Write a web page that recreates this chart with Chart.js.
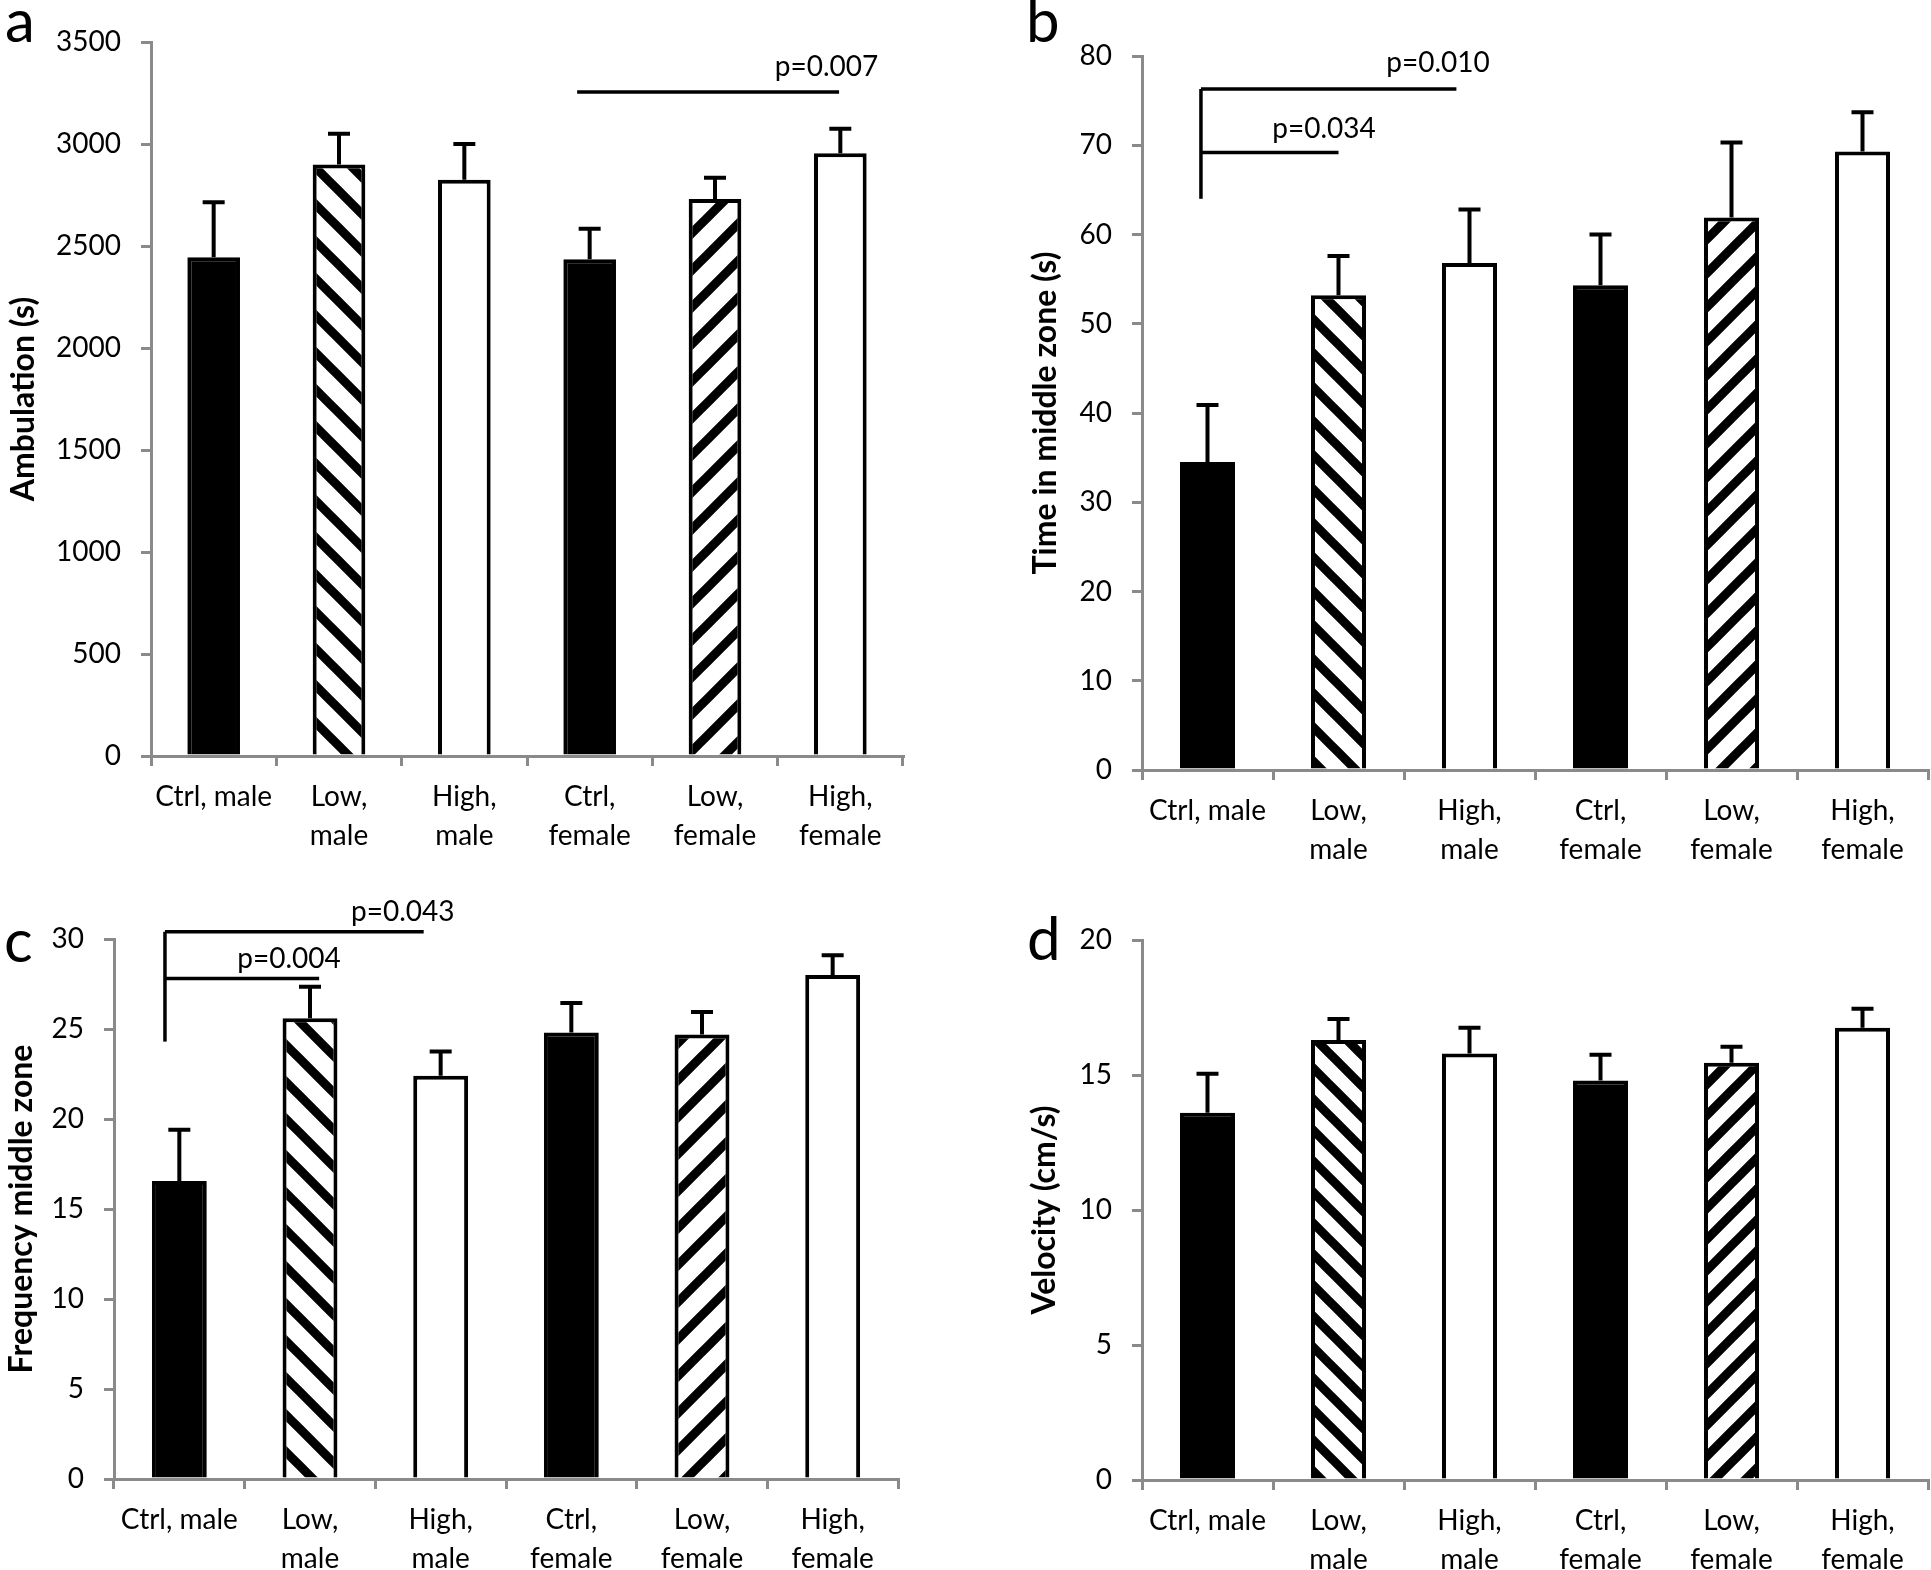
<!DOCTYPE html>
<html>
<head>
<meta charset="utf-8">
<script src="https://cdn.jsdelivr.net/npm/chart.js@4.4.1/dist/chart.umd.min.js"></script>
<style>
  body { margin: 0; background: #fff; width: 1931px; height: 1570px; position: relative; overflow: hidden; }
  canvas { position: absolute; }
</style>
</head>
<body>
<canvas id="chartA" width="960" height="870" style="left:0;top:0"></canvas>
<canvas id="chartB" width="971" height="870" style="left:960px;top:0"></canvas>
<canvas id="chartC" width="960" height="700" style="left:0;top:870px"></canvas>
<canvas id="chartD" width="971" height="700" style="left:960px;top:870px"></canvas>
<script>
// --- data ---
const categories = ['Ctrl, male', ['Low,', 'male'], ['High,', 'male'], ['Ctrl,', 'female'], ['Low,', 'female'], ['High,', 'female']];

const ambulationMean = [2445, 2900, 2825, 2435, 2730, 2955];
const ambulationErr  = [270, 150, 175, 150, 105, 120];

const timeMean = [34.5, 53.2, 56.8, 54.3, 61.9, 69.3];
const timeErr  = [6.4, 4.4, 6.0, 5.7, 8.4, 4.4];

const freqMean = [16.55, 25.6, 22.4, 24.8, 24.7, 28.0];
const freqErr  = [2.85, 1.75, 1.35, 1.65, 1.25, 1.1];

const velMean = [13.6, 16.3, 15.8, 14.8, 15.45, 16.75];
const velErr  = [1.45, 0.77, 0.95, 0.95, 0.6, 0.7];

// significance bars: category index span, value level, label
const sigA = [{from: 2.9, to: 4.99, at: 3255, text: 'p=0.007', tx: 4.89, ty: 3377}];
const sigB = [{from: -0.05, to: 1.9, at: 76.3, text: 'p=0.010', tx: 1.76, ty: 79.2},
              {from: -0.05, to: 1.0, at: 69.2, text: 'p=0.034', tx: 0.89, ty: 71.8}];
const dropB = {at: -0.05, from: 64, to: 76.3};
const sigC = [{from: -0.11, to: 1.87, at: 30.4, text: 'p=0.043', tx: 1.71, ty: 31.5},
              {from: -0.11, to: 1.07, at: 27.8, text: 'p=0.004', tx: 0.84, ty: 28.9}];
const dropC = {at: -0.11, from: 24.3, to: 30.4};

const FONT = 'Lato';
const GREY = '#8a8a8a';

function hatch(dir, p, lw) {
  const c = document.createElement('canvas');
  c.width = p; c.height = p;
  const g = c.getContext('2d');
  g.fillStyle = '#fff'; g.fillRect(0, 0, p, p);
  g.strokeStyle = '#000'; g.lineWidth = lw;
  g.beginPath();
  for (let k = -2; k <= 2; k++) {
    if (dir === 'down') { g.moveTo(k * p - p, -p); g.lineTo(k * p + 2 * p, 2 * p); }
    else { g.moveTo(k * p - p, 2 * p); g.lineTo(k * p + 2 * p, -p); }
  }
  g.stroke();
  return g.createPattern(c, 'repeat');
}

function catX(scale, idx) {
  const p0 = scale.getPixelForValue(0), p1 = scale.getPixelForValue(1);
  return p0 + idx * (p1 - p0);
}

function extrasPlugin(means, errs, sigs, drop, letter, lx, ly) {
  return {
    id: 'extras',
    afterDatasetsDraw(chart) {
      const ctx = chart.ctx, x = chart.scales.x, y = chart.scales.y;
      ctx.save();
      ctx.strokeStyle = '#000';
      ctx.lineWidth = 4;
      chart.getDatasetMeta(0).data.forEach((bar, i) => {
        const base = y.getPixelForValue(means[i]);
        const top = y.getPixelForValue(means[i] + errs[i]);
        ctx.beginPath();
        ctx.moveTo(bar.x, base); ctx.lineTo(bar.x, top);
        ctx.moveTo(bar.x - 11, top); ctx.lineTo(bar.x + 11, top);
        ctx.stroke();
      });
      ctx.lineWidth = 3.5;
      sigs.forEach(s => {
        const py = y.getPixelForValue(s.at);
        ctx.beginPath();
        ctx.moveTo(catX(x, s.from), py); ctx.lineTo(catX(x, s.to), py);
        ctx.stroke();
      });
      if (drop) {
        const px = catX(x, drop.at);
        ctx.beginPath();
        ctx.moveTo(px, y.getPixelForValue(drop.from)); ctx.lineTo(px, y.getPixelForValue(drop.to));
        ctx.stroke();
      }
      ctx.fillStyle = '#000';
      ctx.font = '28px ' + FONT;
      ctx.textAlign = 'center';
      ctx.textBaseline = 'middle';
      sigs.forEach(s => ctx.fillText(s.text, catX(x, s.tx), y.getPixelForValue(s.ty)));
      ctx.restore();
    },
    afterDraw(chart) {
      const ctx = chart.ctx;
      ctx.save();
      ctx.fillStyle = '#000';
      ctx.font = '60px ' + FONT;
      ctx.textAlign = 'left';
      ctx.textBaseline = 'alphabetic';
      ctx.fillText(letter, lx, ly);
      ctx.restore();
    }
  };
}

function makeChart(id, p) {
  const fills = ['#000', hatch('down', p.period, 9), '#fff', '#000', hatch('up', p.period, 9), '#fff'];
  return new Chart(document.getElementById(id), {
    type: 'bar',
    data: {
      labels: categories,
      datasets: [{
        data: p.means,
        backgroundColor: fills,
        borderColor: '#000',
        borderWidth: 4,
        barPercentage: 0.42,
        categoryPercentage: 1
      }]
    },
    options: {
      responsive: false,
      animation: false,
      events: [],
      layout: { padding: p.pad },
      plugins: { legend: { display: false }, tooltip: { enabled: false } },
      scales: {
        x: {
          afterFit: s => { s.height = p.xH; },
          grid: { drawOnChartArea: false, color: GREY, lineWidth: 3, tickLength: 10, offset: true },
          border: { color: GREY, width: 3 },
          ticks: { color: '#000', padding: 12, maxRotation: 0, autoSkip: false,
                   font: { family: FONT, size: 28, lineHeight: 1.39 } }
        },
        y: {
          min: 0, max: p.max,
          afterFit: s => { s.width = p.yW; },
          grid: { drawOnChartArea: false, color: GREY, lineWidth: 3, tickLength: 10 },
          border: { color: GREY, width: 3 },
          ticks: { stepSize: p.step, color: '#000', padding: 20, font: { family: FONT, size: 28 },
                   callback: v => String(v) },
          title: { display: true, text: p.title, color: '#000', padding: 4,
                   font: { family: FONT, size: 32, weight: 'bold', lineHeight: 1.1 } }
        }
      }
    },
    plugins: [extrasPlugin(p.means, p.errs, p.sigs, p.drop, p.letter, p.lx, p.ly)]
  });
}

function draw() {
  makeChart('chartA', { means: ambulationMean, errs: ambulationErr, max: 3500, step: 500,
    title: 'Ambulation (s)', sigs: sigA, drop: null, letter: 'a', lx: 5, ly: 42,
    pad: { left: 2, top: 42, right: 57, bottom: 0 }, yW: 149, xH: 114, period: 37 });
  makeChart('chartB', { means: timeMean, errs: timeErr, max: 80, step: 10,
    title: 'Time in middle zone (s)', sigs: sigB, drop: dropB, letter: 'b', lx: 66, ly: 42,
    pad: { left: 64, top: 56, right: 3, bottom: 0 }, yW: 118, xH: 100, period: 34 });
  makeChart('chartC', { means: freqMean, errs: freqErr, max: 30, step: 5,
    title: 'Frequency middle zone', sigs: sigC, drop: dropC, letter: 'c', lx: 4, ly: 92,
    pad: { left: 0, top: 69, right: 62, bottom: 0 }, yW: 114, xH: 91, period: 37 });
  makeChart('chartD', { means: velMean, errs: velErr, max: 20, step: 5,
    title: 'Velocity (cm/s)', sigs: [], drop: null, letter: 'd', lx: 67, ly: 90,
    pad: { left: 63, top: 70, right: 3, bottom: 0 }, yW: 119, xH: 90, period: 31 });
}

Promise.all([
  document.fonts.load('28px ' + FONT),
  document.fonts.load('bold 32px ' + FONT),
  document.fonts.load('60px ' + FONT)
]).then(draw, draw);
</script>
</body>
</html>
